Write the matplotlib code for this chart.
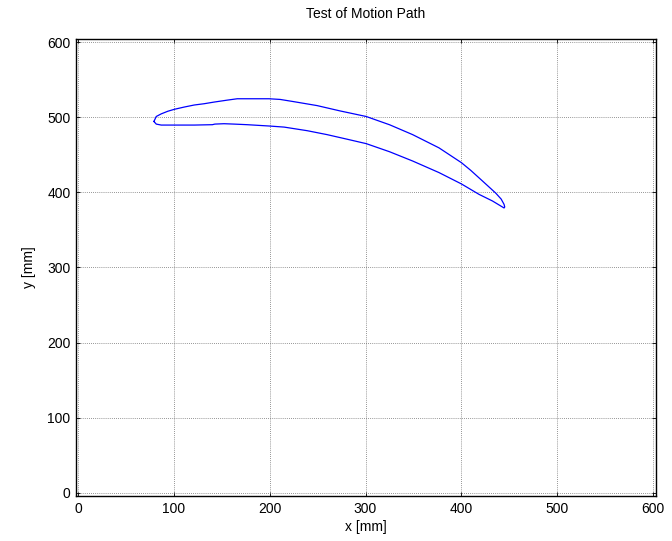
import matplotlib
matplotlib.use("Agg")
from matplotlib import pyplot as plt

plt.rcParams['font.family'] = ['Liberation Sans', 'DejaVu Sans']

# motion path (closed loop, leading edge at the left)
upper_x = [79.3, 81.7, 86.9, 93.8, 100.7, 111.0, 121.4, 131.7, 142.1, 155.9,
           166.2, 199.3, 211.0, 225.4, 249.5, 273.5, 300.7, 325.1, 349.1, 376.6,
           400.0, 409.7, 421.9, 435.8, 441.5, 444.5, 445.2]
upper_y = [494.3, 500.9, 504.4, 507.9, 510.5, 513.5, 516.2, 517.9, 520.1, 522.7,
           524.5, 524.5, 523.6, 520.6, 515.4, 508.3, 500.9, 489.9, 476.8, 459.2,
           439.5, 429.3, 415.2, 399.0, 391.0, 384.0, 380.5]
lower_x = [444.5, 432.4, 418.4, 400.0, 376.6, 349.1, 325.1, 300.7, 280.4, 259.8,
           239.2, 215.1, 200.0, 176.6, 162.8, 152.4, 142.8, 140.3, 121.4, 100.7,
           86.9, 81.7, 79.3]
lower_y = [379.2, 388.5, 397.3, 411.2, 426.3, 441.7, 454.0, 464.8, 470.8, 476.8,
           482.0, 486.8, 488.2, 490.0, 490.8, 491.3, 490.8, 490.0, 489.5, 489.5,
           489.5, 490.8, 494.3]

path_x = upper_x + lower_x
path_y = upper_y + lower_y

fig = plt.figure(figsize=(6.72, 5.41), dpi=100)
ax = fig.add_axes([0.1131, 0.0832, 0.8631, 0.8447])

ax.plot(path_x, path_y, color='#0000ff', linewidth=0.9)

ax.set_xlim(-2, 603)
ax.set_ylim(-4, 604)
ax.set_xticks(range(0, 601, 100))
ax.set_yticks(range(0, 601, 100))
ax.grid(True, color='0.45', linestyle=(0, (1, 1.5)), linewidth=0.6)
ax.tick_params(direction='in', length=3, width=0.6, top=True, right=True,
               labelsize=10, pad=4)
for s in ax.spines.values():
    s.set_linewidth(1.0)

ax.set_title('Test of Motion Path', fontsize=10, pad=15)
ax.set_xlabel('x [mm]', fontsize=10, labelpad=3)
ax.set_ylabel('y [mm]', fontsize=10, labelpad=8)

plt.savefig('out.png', dpi=100)
